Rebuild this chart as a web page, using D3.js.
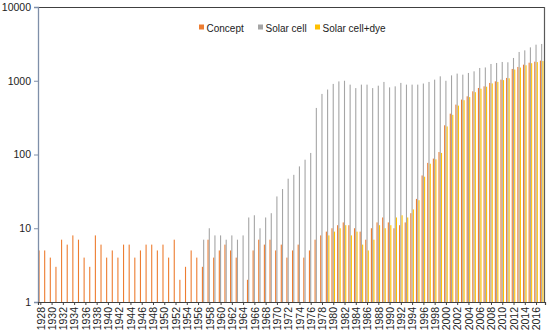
<!DOCTYPE html>
<html>
<head>
<meta charset="utf-8">
<script src="https://cdn.jsdelivr.net/npm/d3@7"></script>
<style>
  body { margin: 0; background: #fff; }
  svg { display: block; font-family: "Liberation Sans", Arial, sans-serif; }
</style>
</head>
<body>
<svg id="chart" width="550" height="335"></svg>
<script>
const years = d3.range(1928, 2018);
const seriesNames = ["Concept", "Solar cell", "Solar cell+dye"];
const seriesColors = ["#ED7D31", "#A5A5A5", "#FFC000"];
const yTicks = [1, 10, 100, 1000, 10000];

const concept = [
  5, 5, 4, 3, 7, 6, 8, 7, 4, 3, 8, 6, 4, 5, 4, 6, 6, 4, 5, 6, 6, 5, 6, 4, 7, 2, 3, 5, 4, 3,
  7, 4, 5, 6, 5, 4, 0, 2, 5, 7, 6, 7, 5, 6, 4, 5, 6, 4, 5, 7,
  8, 9, 10, 11, 12, 11, 10, 9, 7, 10, 12, 14, 12, 10, 11, 12, 16, 25,
  52, 77, 88, 108, 249, 358, 475, 555, 615, 719, 798, 840, 934, 982, 1035, 1092, 1446, 1538, 1652, 1758, 1814, 1873
];

const solarCell = [
  0, 0, 0, 0, 0, 0, 0, 0, 0, 0, 0, 0, 0, 0, 0, 0, 0, 0, 0, 0, 0, 0, 0, 0, 0, 0, 0, 0, 0,
  7, 10, 8, 8, 7, 8, 7, 8, 14, 15, 10, 14, 16, 27, 34, 47, 53, 69, 85, 105, 428,
  663, 760, 906, 980, 1000, 886, 795, 886, 886, 795, 857, 964, 813, 840, 935, 886, 886, 886,
  917, 964, 1035, 1148, 1000, 1183, 1250, 1210, 1276, 1342, 1490, 1515, 1688, 1742, 1798, 1780, 2037, 2456, 2584, 2836, 3085, 3155
];

const solarCellDye = [
  0, 0, 0, 0, 0, 0, 0, 0, 0, 0, 0, 0, 0, 0, 0, 0, 0, 0, 0, 0, 0, 0, 0, 0, 0, 0, 0, 0, 0, 0,
  0, 0, 0, 0, 0, 0, 0, 0, 0, 0, 0, 0, 0, 0, 0, 0, 0, 0, 0, 0, 0,
  8, 9, 10, 11, 8, 9, 6, 5, 7, 11, 10, 11, 14, 15, 14, 18, 24,
  50, 75, 86, 105, 240, 345, 460, 545, 600, 700, 780, 830, 920, 965, 1020, 1080, 1420, 1510, 1620, 1730, 1790, 1850
];

const allSeries = [concept, solarCell, solarCellDye];

const svg = d3.select("#chart");
const margin = { top: 7, right: 5, bottom: 33, left: 38 };
const width = 550 - margin.left - margin.right;
const height = 335 - margin.top - margin.bottom;

const g = svg.append("g").attr("transform", `translate(${margin.left},${margin.top})`);

const x = d3.scaleBand().domain(years).range([0, width]).paddingInner(0);
const x1 = d3.scaleBand().domain(seriesNames).range([0.5, 4.1]).paddingInner(0.12);
const y = d3.scaleLog().domain([1, 10000]).range([height, 0]);

// bars, one group per series
seriesNames.forEach((name, si) => {
  const rows = years.map((yr, i) => ({ year: yr, value: allSeries[si][i] })).filter(d => d.value > 1);
  g.append("g")
    .attr("fill", seriesColors[si])
    .selectAll("rect")
    .data(rows)
    .join("rect")
    .attr("x", d => x(d.year) + x1(name))
    .attr("width", x1.bandwidth())
    .attr("y", d => y(d.value))
    .attr("height", d => y(1) - y(d.value));
});

// frame: top and right
g.append("line").attr("x1", 0).attr("x2", width).attr("y1", 0.5).attr("y2", 0.5)
  .attr("stroke", "#404040").attr("stroke-width", 1.2);
g.append("line").attr("x1", width - 0.5).attr("x2", width - 0.5).attr("y1", 0).attr("y2", height)
  .attr("stroke", "#595959").attr("stroke-width", 1.2);

// y axis
const yAxis = g.append("g")
  .call(d3.axisLeft(y).tickValues(yTicks).tickFormat(d3.format("d")).tickSize(4).tickPadding(3));
yAxis.select(".domain").attr("stroke", "#7F8FA9").attr("stroke-width", 1.3);
yAxis.selectAll(".tick line").attr("stroke", "#7F8FA9");
yAxis.selectAll("text").attr("font-size", 10.5).attr("fill", "#222")
  .attr("font-family", "'Liberation Sans', Arial, sans-serif");

// x axis
const xAxis = g.append("g")
  .attr("transform", `translate(0,${height})`)
  .call(d3.axisBottom(x).tickValues(years.filter(yr => (yr - 1928) % 2 === 0)).tickSize(3).tickPadding(2));
xAxis.select(".domain").attr("stroke", "#404040").attr("stroke-width", 1.2);
xAxis.selectAll(".tick line").attr("stroke", "#404040");
xAxis.selectAll("text")
  .attr("font-size", 10.5)
  .attr("fill", "#222")
  .attr("font-family", "'Liberation Sans', Arial, sans-serif")
  .attr("transform", "rotate(-90)")
  .attr("text-anchor", "end")
  .attr("x", -5)
  .attr("y", 0)
  .attr("dy", "0.35em");

// legend
const legend = svg.append("g").attr("transform", "translate(199,28)");
const legendX = [0, 59, 116];
seriesNames.forEach((name, i) => {
  const item = legend.append("g").attr("transform", `translate(${legendX[i]},0)`);
  item.append("rect").attr("x", 0).attr("y", -3.5).attr("width", 5).attr("height", 5)
    .attr("fill", seriesColors[i]);
  item.append("text").attr("x", 7.5).attr("y", 0).attr("dy", "0.35em")
    .attr("font-size", 10).attr("fill", "#222").text(name);
});
</script>
</body>
</html>
